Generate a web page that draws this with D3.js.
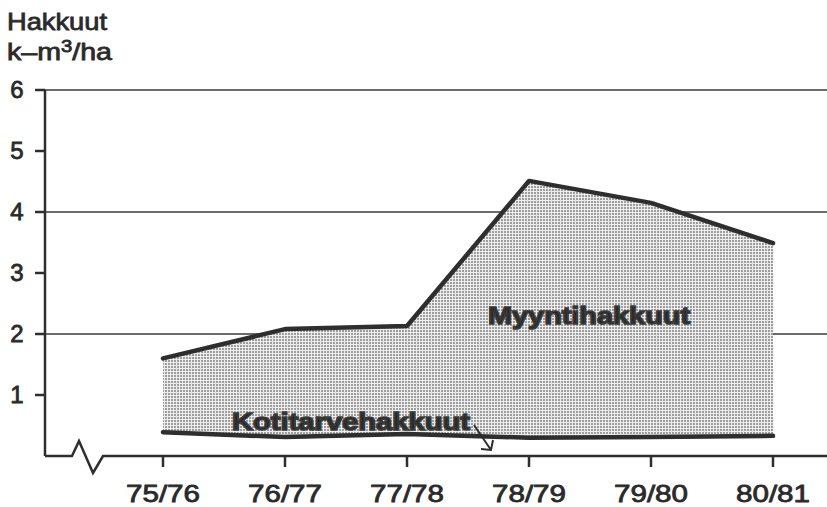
<!DOCTYPE html>
<html>
<head>
<meta charset="utf-8">
<script src="https://cdn.jsdelivr.net/npm/d3@7"></script>
<style>
  body { margin: 0; background: #fff; }
  svg text { font-family: "Liberation Sans", Arial, sans-serif; fill: #2a2a2a; }
  svg text.lbl { stroke: #2a2a2a; stroke-width: 0.8px; }
</style>
</head>
<body>
<div id="chart"></div>
<script>
// harvest seasons
const seasons = ["75/76", "76/77", "77/78", "78/79", "79/80", "80/81"];
// total removals (top line), k-m3/ha
const totalHarvest = [1.60, 2.08, 2.13, 4.51, 4.15, 3.49];
// household use removals (bottom line)
const homeHarvest = [0.39, 0.31, 0.36, 0.30, 0.31, 0.33];
const yTicks = [1, 2, 3, 4, 5, 6];
const gridValues = [2, 4, 6];

const width = 827, height = 507;
const svg = d3.select("#chart").append("svg")
    .attr("width", width)
    .attr("height", height);

const defs = svg.append("defs");
const pat = defs.append("pattern")
    .attr("id", "stipple")
    .attr("patternUnits", "userSpaceOnUse")
    .attr("width", 3)
    .attr("height", 3);
pat.append("rect").attr("width", 3).attr("height", 3).attr("fill", "#eeeeee");
pat.append("circle").attr("cx", 1).attr("cy", 1).attr("r", 0.95).attr("fill", "#7a7a7a");

const axisX = 45;
const x = d3.scalePoint().domain(seasons).range([163, 773]);
const y = d3.scaleLinear().domain([0, 6]).range([456, 90]);

const ink = "#2e2e2e";

// gridlines
svg.append("g").selectAll("line")
    .data(gridValues)
    .join("line")
    .attr("x1", axisX)
    .attr("x2", width)
    .attr("y1", d => y(d))
    .attr("y2", d => y(d))
    .attr("stroke", "#3a3a3a")
    .attr("stroke-width", 1.5);

// stippled band between the two series
const band = seasons.map((s, i) => ({s: s, lo: homeHarvest[i], hi: totalHarvest[i]}));
svg.append("path")
    .datum(band)
    .attr("fill", "url(#stipple)")
    .attr("d", d3.area().x(d => x(d.s)).y0(d => y(d.lo)).y1(d => y(d.hi)));

const line = d3.line().x((d, i) => x(seasons[i])).y(d => y(d));
[totalHarvest, homeHarvest].forEach(series => {
    svg.append("path")
        .datum(series)
        .attr("fill", "none")
        .attr("stroke", ink)
        .attr("stroke-width", 4.5)
        .attr("stroke-linejoin", "round")
        .attr("stroke-linecap", "round")
        .attr("d", line);
});

// y axis
svg.append("line")
    .attr("x1", axisX).attr("x2", axisX)
    .attr("y1", y(6)).attr("y2", y(0))
    .attr("stroke", ink).attr("stroke-width", 2.5);
const yg = svg.append("g");
yg.selectAll("line")
    .data(yTicks)
    .join("line")
    .attr("x1", 35).attr("x2", axisX)
    .attr("y1", d => y(d)).attr("y2", d => y(d))
    .attr("stroke", ink).attr("stroke-width", 2.5);
yg.selectAll("text")
    .data(yTicks)
    .join("text")
    .attr("class", "lbl")
    .attr("x", 17)
    .attr("y", d => y(d) + 8)
    .attr("text-anchor", "middle")
    .attr("font-size", 24)
    .text(d => d);

// x axis with break mark
const y0 = y(0);
svg.append("path")
    .attr("fill", "none")
    .attr("stroke", ink)
    .attr("stroke-width", 2.5)
    .attr("stroke-linejoin", "miter")
    .attr("d", `M${axisX},${y0} L72,${y0} L79,${y0 - 15} L93,${y0 + 17} L103,${y0} L${width},${y0}`);
const xg = svg.append("g");
xg.selectAll("line")
    .data(seasons)
    .join("line")
    .attr("x1", d => x(d)).attr("x2", d => x(d))
    .attr("y1", y0).attr("y2", y0 + 11)
    .attr("stroke", ink).attr("stroke-width", 2.5);
xg.selectAll("text")
    .data(seasons)
    .join("text")
    .attr("class", "lbl")
    .attr("x", d => x(d) - 37)
    .attr("y", 502)
    .attr("font-size", 24)
    .attr("textLength", 74)
    .attr("lengthAdjust", "spacingAndGlyphs")
    .text(d => d);

// axis title
svg.append("text")
    .attr("class", "lbl")
    .attr("x", 7).attr("y", 30)
    .attr("font-size", 24)
    .attr("textLength", 100)
    .attr("lengthAdjust", "spacingAndGlyphs")
    .text("Hakkuut");
const unit = svg.append("text")
    .attr("class", "lbl")
    .attr("x", 7).attr("y", 60)
    .attr("font-size", 24)
    .attr("textLength", 105)
    .attr("lengthAdjust", "spacingAndGlyphs");
unit.append("tspan").text("k–m");
unit.append("tspan").attr("font-size", 17).attr("dy", -8).text("3");
unit.append("tspan").attr("dy", 8).text("/ha");

// series labels
svg.append("text")
    .attr("x", 488).attr("y", 324)
    .attr("font-size", 24).attr("font-weight", "bold")
    .attr("stroke", "#3a3a3a").attr("stroke-width", 1.6)
    .attr("textLength", 202)
    .attr("lengthAdjust", "spacingAndGlyphs")
    .text("Myyntihakkuut");
svg.append("text")
    .attr("x", 232).attr("y", 430)
    .attr("font-size", 24).attr("font-weight", "bold")
    .attr("stroke", "#3a3a3a").attr("stroke-width", 1.6)
    .attr("textLength", 238)
    .attr("lengthAdjust", "spacingAndGlyphs")
    .text("Kotitarvehakkuut");

// pointer arrow
svg.append("path")
    .attr("fill", "none")
    .attr("stroke", ink)
    .attr("stroke-width", 2)
    .attr("d", "M474,425 L491,450 M481,449 L491,450 L493,440");
</script>
</body>
</html>
